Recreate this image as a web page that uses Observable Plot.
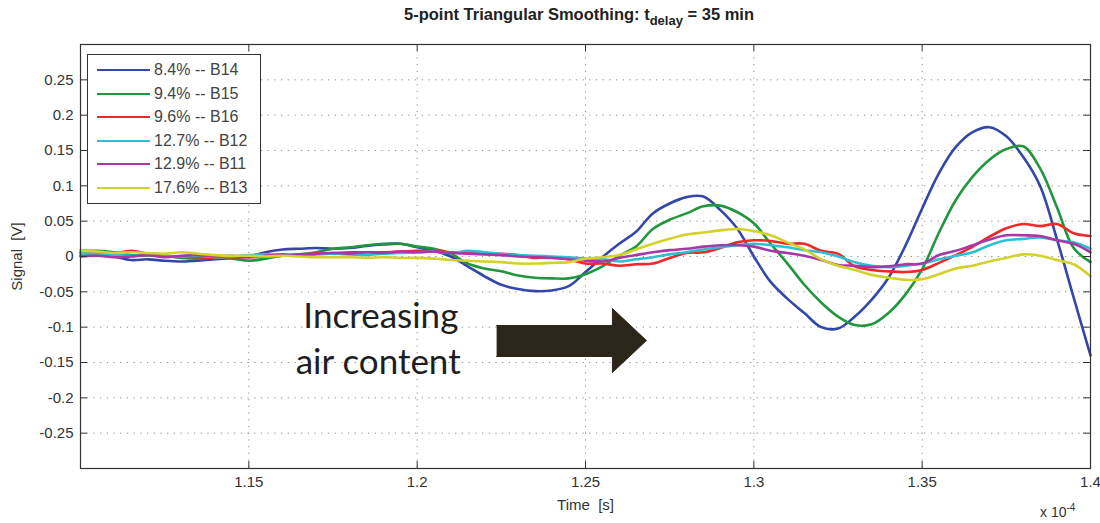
<!DOCTYPE html>
<html>
<head>
<meta charset="utf-8">
<script src="https://cdn.jsdelivr.net/npm/d3@7"></script>
<script src="https://cdn.jsdelivr.net/npm/@observablehq/plot@0.6"></script>
<style>
  body { margin: 0; background: #fff; }
  #wrap { position: relative; width: 1100px; height: 523px; font-family: "Liberation Sans", Arial, sans-serif; color: #333; }
  #title { position: absolute; top: 5px; left: 579px; transform: translateX(-50%); white-space: nowrap; font-weight: bold; font-size: 16.5px; color: #222; }
  #title sub { font-size: 13px; vertical-align: -5px; }
  #legend { position: absolute; left: 87px; top: 54px; width: 174px; height: 150px; box-sizing: border-box; border: 1px solid #333; background: #fff; padding-top: 4px; }
  .row { position: relative; height: 23.6px; }
  .row .sw { position: absolute; left: 9px; top: 10px; width: 53px; height: 0; border-top: 2.5px solid; }
  .row .lb { position: absolute; left: 66px; top: 2px; font-size: 16px; color: #444; white-space: nowrap; }
  #exp { position: absolute; left: 1040px; top: 502px; font-size: 14px; color: #333; white-space: nowrap; }
  #exp sup { font-size: 10px; }
</style>
</head>
<body>
<div id="wrap">
  <div id="chart"></div>
  <div id="title">5-point Triangular Smoothing: t<sub>delay</sub> = 35 min</div>
  <div id="legend"></div>
  <div id="exp">x 10<sup>-4</sup></div>
</div>
<script>
// ---- data (time in units of 1e-4 s, signal in V) ----
const times = [1.100,1.105,1.110,1.115,1.120,1.125,1.130,1.135,1.140,1.145,
               1.150,1.155,1.160,1.165,1.170,1.175,1.180,1.185,1.190,1.195,
               1.200,1.205,1.210,1.215,1.220,1.225,1.230,1.235,1.240,1.245,
               1.250,1.255,1.260,1.265,1.270,1.275,1.280,1.285,1.290,1.295,
               1.300,1.305,1.310,1.315,1.320,1.325,1.330,1.335,1.340,1.345,
               1.350,1.355,1.360,1.365,1.370,1.375,1.380,1.385,1.390,1.395,1.400];

const seriesNames  = ["8.4% -- B14","9.4% -- B15","9.6% -- B16","12.7% -- B12","12.9% -- B11","17.6% -- B13"];
const seriesColors = ["#3347a8","#22963c","#f02828","#2ec0d2","#a838a8","#d2d22a"];

const b14 = [0.005,0.004,0.000,-0.005,-0.004,-0.006,-0.007,-0.006,-0.004,-0.002,
             0.000,0.006,0.010,0.011,0.012,0.011,0.012,0.015,0.017,0.018,
             0.013,0.008,0.000,-0.014,-0.028,-0.040,-0.046,-0.049,-0.048,-0.042,
             -0.022,-0.001,0.018,0.035,0.061,0.075,0.084,0.085,0.066,0.040,
             0.000,-0.036,-0.060,-0.080,-0.100,-0.102,-0.085,-0.061,-0.030,0.015,
             0.068,0.118,0.155,0.176,0.183,0.170,0.141,0.100,0.025,-0.058,-0.140];
const b15 = [0.008,0.008,0.006,0.002,0.001,0.001,-0.002,-0.003,-0.001,-0.003,
             -0.006,-0.003,0.001,0.003,0.006,0.011,0.013,0.016,0.018,0.018,
             0.014,0.011,0.004,-0.010,-0.017,-0.021,-0.027,-0.030,-0.031,-0.031,
             -0.025,-0.014,0.001,0.014,0.039,0.052,0.061,0.071,0.072,0.063,
             0.047,0.018,-0.010,-0.040,-0.065,-0.085,-0.097,-0.096,-0.080,-0.054,
             -0.018,0.034,0.080,0.113,0.137,0.152,0.156,0.125,0.070,0.012,-0.008];
const b16 = [0.001,0.003,0.004,0.008,0.004,0.001,0.000,-0.001,-0.002,-0.001,
             -0.001,0.000,0.001,0.003,0.004,0.005,0.006,0.006,0.006,0.007,
             0.008,0.008,0.006,0.006,0.005,0.004,0.002,-0.002,-0.001,-0.004,
             -0.010,-0.010,-0.013,-0.011,-0.010,-0.002,0.005,0.006,0.012,0.020,
             0.023,0.022,0.018,0.018,0.008,0.004,-0.014,-0.019,-0.021,-0.022,
             -0.019,-0.009,0.002,0.014,0.028,0.040,0.046,0.043,0.046,0.033,0.029];
const b12 = [0.004,0.004,0.002,0.001,0.002,0.000,0.000,0.001,-0.001,0.000,
             0.002,0.003,0.002,0.001,0.003,0.004,0.003,0.002,0.004,0.005,
             0.006,0.007,0.005,0.008,0.006,0.004,0.002,0.001,0.000,-0.001,
             -0.003,-0.004,-0.007,-0.004,-0.001,0.003,0.006,0.010,0.013,0.016,
             0.018,0.016,0.013,0.009,0.006,0.000,-0.008,-0.013,-0.015,-0.013,
             -0.010,-0.004,0.001,0.006,0.016,0.023,0.025,0.027,0.023,0.020,0.011];
const b11 = [0.000,0.001,-0.001,0.000,0.002,-0.001,0.001,0.002,0.000,0.001,
             -0.001,0.001,0.003,0.002,0.004,0.005,0.004,0.006,0.005,0.007,
             0.006,0.007,0.005,0.004,0.003,0.002,0.000,-0.001,-0.002,-0.004,
             -0.006,-0.007,-0.002,0.002,0.006,0.009,0.011,0.014,0.016,0.016,
             0.014,0.008,0.005,0.001,-0.005,-0.012,-0.013,-0.015,-0.014,-0.011,
             -0.010,0.002,0.008,0.016,0.024,0.030,0.030,0.029,0.023,0.018,0.006];
const b13 = [0.008,0.007,0.005,0.006,0.005,0.004,0.006,0.004,0.002,0.001,
             0.001,0.000,0.001,0.000,-0.001,-0.001,-0.001,-0.002,-0.001,-0.002,
             -0.002,-0.003,-0.005,-0.006,-0.007,-0.008,-0.010,-0.010,-0.009,-0.008,
             -0.003,-0.001,0.002,0.010,0.018,0.025,0.031,0.034,0.037,0.039,
             0.036,0.030,0.020,0.010,-0.004,-0.013,-0.019,-0.026,-0.030,-0.033,
             -0.032,-0.025,-0.017,-0.013,-0.007,-0.002,0.003,0.001,-0.005,-0.011,-0.028];
const seriesValues = [b14, b15, b16, b12, b11, b13];

const xTicks = [1.15, 1.2, 1.25, 1.3, 1.35, 1.4];
const yTicks = [-0.25, -0.2, -0.15, -0.1, -0.05, 0, 0.05, 0.1, 0.15, 0.2, 0.25];

// annotation (data coordinates)
const annotText = ["Increasing", "air content"];
const annotX = [1.1662, 1.1639];
const annotY = [-0.1005, -0.1656];
const arrowX = [1.2236, 1.2580, 1.2580, 1.2681, 1.2580, 1.2580, 1.2236];
const arrowY = [-0.0976, -0.0976, -0.0736, -0.1189, -0.1641, -0.1415, -0.1415];

// ---- build tables ----
const lines = [];
seriesValues.forEach((vals, i) => vals.forEach((v, k) => lines.push({t: times[k], v, s: seriesNames[i]})));
const annot = annotText.map((text, i) => ({text, x: annotX[i], y: annotY[i]}));
const arrow = arrowX.map((x, i) => ({x, y: arrowY[i]}));

const W = 1100, H = 523, ML = 80, MR = 10, MT = 44, MB = 55;
const fw = W - ML - MR, fh = H - MT - MB;
const fmt = d => String(d);
const grid = {stroke: "#8a8a8a", strokeWidth: 1, strokeDasharray: "1.2,5.5"};

const chart = Plot.plot({
  width: W, height: H,
  marginLeft: ML, marginRight: MR, marginTop: MT, marginBottom: MB,
  x: {domain: [1.1, 1.4]},
  y: {domain: [-0.3, 0.3]},
  color: {domain: seriesNames, range: seriesColors},
  style: {fontFamily: "'Liberation Sans', Arial, sans-serif", fontSize: "15px", color: "#333", background: "#fff"},
  marks: [
    Plot.ruleX(xTicks.slice(0, -1), grid),
    Plot.ruleY(yTicks, grid),
    Plot.lineY(lines, {x: "t", y: "v", stroke: "s", z: "s", strokeWidth: 2.6, strokeLinejoin: "round", curve: "catmull-rom"}),
    Plot.line(arrow, {x: "x", y: "y", fill: "#2b2619", stroke: "#2b2619", strokeWidth: 1}),
    Plot.text(annot, {x: "x", y: "y", text: "text", textAnchor: "start", lineAnchor: "bottom",
                      fontFamily: "Lato, 'Open Sans', sans-serif", fontSize: 35, fill: "#1e1e1e"}),
    // inward ticks on all four sides (MATLAB box style)
    Plot.tickY(yTicks, {y: d => d, insetRight: fw - 7, stroke: "#333"}),
    Plot.tickY(yTicks, {y: d => d, insetLeft: fw - 7, stroke: "#333"}),
    Plot.tickX(xTicks, {x: d => d, insetTop: fh - 7, stroke: "#333"}),
    Plot.tickX(xTicks, {x: d => d, insetBottom: fh - 7, stroke: "#333"}),
    Plot.frame({stroke: "#333", strokeWidth: 1.2}),
    Plot.axisX(xTicks, {tickSize: 0, tickPadding: 8, tickFormat: fmt, label: "Time  [s]",
                        labelAnchor: "center", labelArrow: "none", labelOffset: 41}),
    Plot.axisY(yTicks, {tickSize: 0, tickPadding: 7, tickFormat: fmt, label: "Signal  [V]",
                        labelAnchor: "center", labelArrow: "none", labelOffset: 69})
  ]
});
document.getElementById("chart").appendChild(chart);

// legend
const legend = document.getElementById("legend");
seriesNames.forEach((name, i) => {
  const row = document.createElement("div");
  row.className = "row";
  const sw = document.createElement("div");
  sw.className = "sw";
  sw.style.borderTopColor = seriesColors[i];
  const lb = document.createElement("div");
  lb.className = "lb";
  lb.textContent = name;
  row.appendChild(sw); row.appendChild(lb);
  legend.appendChild(row);
});
</script>
</body>
</html>
